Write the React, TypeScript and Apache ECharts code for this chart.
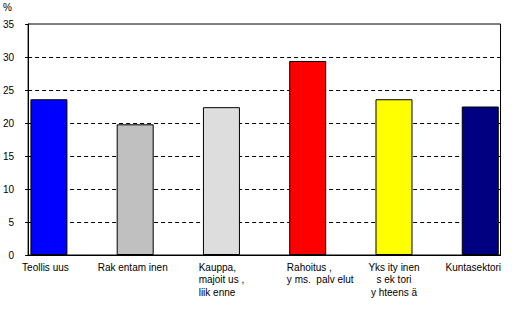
import React, { useEffect, useRef } from "react";
import * as echarts from "echarts";

const categories = [
  "Teollis uus",
  "Rak entam inen",
  "Kauppa,\nmajoit us ,\nliik enne",
  "Rahoitus ,\ny ms.  palv elut",
  "Yks ity inen\ns ek tori\ny hteens ä",
  "Kuntasektori",
];
const values = [23.6, 19.8, 22.4, 29.4, 23.6, 22.5];
const colors = ["#0000FF", "#C0C0C0", "#DDDDDD", "#FF0000", "#FFFF00", "#000080"];
const yTicks = [0, 5, 10, 15, 20, 25, 30, 35];
// rich-text style key per category label (alignment of the label lines)
const labelStyles = ["a", "b", "l", "r", "c", "k"];

export default function App() {
  const ref = useRef<HTMLDivElement>(null);
  useEffect(() => {
    if (!ref.current) return;
    const chart = echarts.init(ref.current, null, { renderer: "svg" });
    const font = "'Liberation Sans', Arial, sans-serif";
    const base = { fontSize: 10, fontFamily: font, color: "#000", lineHeight: 12.5 };
    chart.setOption({
      animation: false,
      backgroundColor: "#fff",
      graphic: [
        {
          type: "text",
          left: 3,
          top: 2,
          style: { text: "%", fontSize: 10, fontFamily: font, fill: "#000" },
        },
      ],
      grid: {
        left: 27,
        top: 24,
        right: 14,
        bottom: 55,
        show: true,
        borderColor: "#000",
        borderWidth: 1,
        backgroundColor: "transparent",
      },
      xAxis: {
        type: "value",
        min: -0.241,
        max: 5.235,
        splitLine: { show: false },
        axisTick: { show: false },
        axisLine: { show: true, onZero: false, lineStyle: { color: "#000", width: 1 } },
        axisLabel: {
          customValues: [0, 1, 2, 3, 4, 5],
          formatter: (v: number) => {
            const i = Math.round(v);
            const key = labelStyles[i];
            return categories[i]
              .split("\n")
              .map((line) => `{${key}|${line}}`)
              .join("\n");
          },
          fontSize: 10,
          fontFamily: font,
          color: "#000",
          lineHeight: 12.5,
          margin: 6,
          hideOverlap: false,
          rich: {
            a: { ...base, padding: [0, 7, 0, 0] },
            b: { ...base, padding: [0, 5, 0, 0] },
            l: { ...base, align: "left" },
            r: { ...base, align: "left", padding: [0, 0, 0, 25] },
            c: { ...base },
            k: { ...base, padding: [0, 14, 0, 0] },
          },
        },
      },
      yAxis: {
        type: "value",
        min: 0,
        max: 35,
        interval: 5,
        axisLine: { show: true, onZero: false, lineStyle: { color: "#000", width: 1 } },
        axisTick: { show: true, length: 3, lineStyle: { color: "#000" } },
        axisLabel: {
          fontSize: 10,
          fontFamily: font,
          color: "#000",
          margin: 14,
          customValues: yTicks,
        },
        splitLine: {
          show: true,
          showMinLine: false,
          showMaxLine: false,
          lineStyle: { color: "#000", type: [4, 3], width: 1 },
        },
      },
      series: [
        {
          type: "bar",
          barWidth: 37,
          data: values.map((v, i) => ({
            value: [i, v],
            itemStyle: { color: colors[i], borderColor: "#000", borderWidth: 1 },
          })),
        },
      ],
    });
    return () => chart.dispose();
  }, []);
  return (
    <div
      ref={ref}
      style={{ width: 518, height: 310, position: "absolute", left: 0, top: 0 }}
    />
  );
}
